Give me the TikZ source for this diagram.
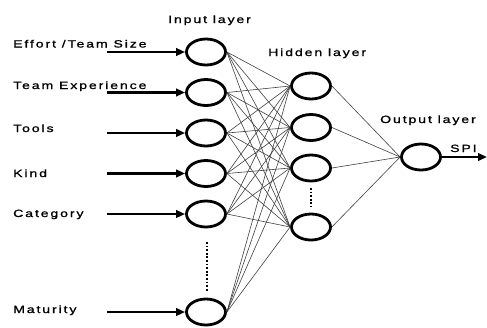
\documentclass[tikz,border=0pt]{standalone}
\usepackage{fontspec}
\usetikzlibrary{shapes.geometric,arrows.meta}
\newfontfamily\netfont[FakeStretch=1.34,LetterSpace=18,FakeBold=1.2]{Liberation Sans}

\begin{document}
\begin{tikzpicture}[x=1pt,y=-1pt,
		neuron/.style={draw, ellipse, line width=2.8pt, minimum width=39pt, minimum height=26pt, inner sep=0pt},
		txt/.style={font=\netfont\fontsize{10.5}{12}\selectfont, inner sep=0pt},
		feed/.style={-{Triangle[length=9pt,width=7.5pt]}, line width=2.6pt},
		link/.style={black!75, line width=0.6pt}]

		\useasboundingbox (0,0) rectangle (487,327);

		% layer titles
		\node [txt, anchor=base west] (ti) at (168,23){Input layer};
		\node [txt, anchor=base west] (th) at (268,56){Hidden layer};
		\node [txt, anchor=base west] (to) at (380,123){Output layer};

		% input layer
		\node [neuron] (i1) at (206,52){};
		\node [neuron] (i2) at (206,92.5){};
		\node [neuron] (i3) at (206,133){};
		\node [neuron] (i4) at (206,173.5){};
		\node [neuron] (i5) at (206,214){};
		\node [neuron] (i6) at (206,312){};
		\draw [line width=2pt, dash pattern=on 1.8pt off 1.8pt] (207,242) -- (207,292);

		% hidden layer
		\node [neuron] (h1) at (311,86){};
		\node [neuron] (h2) at (311,127.5){};
		\node [neuron] (h3) at (311,168){};
		\node [neuron] (h4) at (311,227){};
		\draw [line width=2pt, dash pattern=on 1.8pt off 1.8pt] (311,188) -- (311,207);

		% output layer
		\node [neuron] (o1) at (421,157){};

		% inputs
		\node [txt, anchor=base west] (l1) at (13,47.5){Effort /Team Size};
		\node [txt, anchor=base west] (l2) at (13,89){Team Experience};
		\node [txt, anchor=base west] (l3) at (13,132){Tools};
		\node [txt, anchor=base west] (l4) at (13,177){Kind};
		\node [txt, anchor=base west] (l5) at (13,217){Category};
		\node [txt, anchor=base west] (l6) at (13,313){Maturity};
		\coordinate (a1) at (107,52);
		\coordinate (a2) at (107,92.5);
		\coordinate (a3) at (107,133);
		\coordinate (a4) at (107,173.5);
		\coordinate (a5) at (107,214);
		\coordinate (a6) at (107,312);
		\foreach \n in {1,...,6}
			\draw [feed] (a\n) -- (i\n);

		% weights
		\foreach \n in {1,...,6}
			\foreach \m in {1,...,4}
				\draw [link] (i\n.east) -- (h\m.west);
		\foreach \m in {1,...,4}
			\draw [link] (h\m.east) -- (o1.west);

		% output
		\node [txt, anchor=base west] (spi) at (450,152){SPI};
		\coordinate (out) at (487,157);
		\draw [feed] (o1) -- (out);

	\end{tikzpicture}
\end{document}
